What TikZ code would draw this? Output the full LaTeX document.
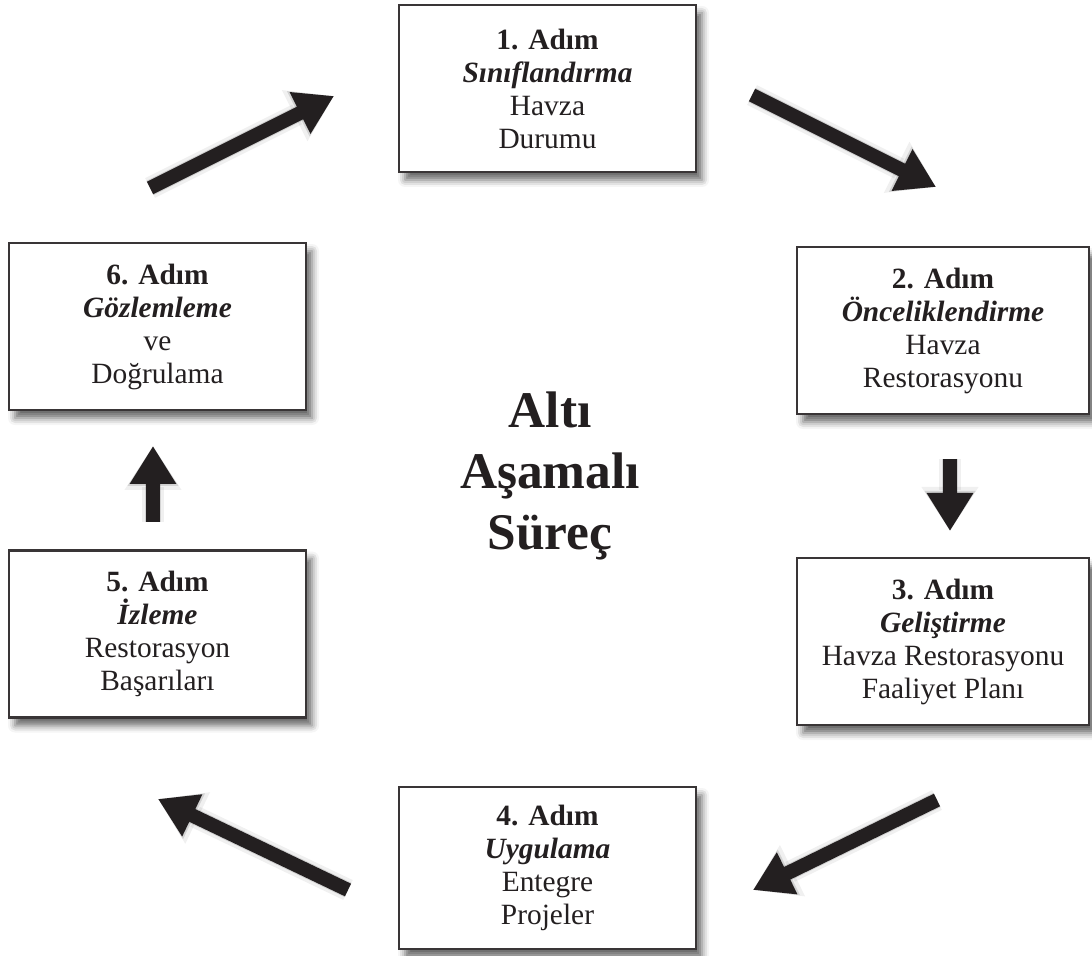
\documentclass[tikz,border=0pt]{standalone}
\usepackage{fontspec}
\setmainfont{Liberation Serif}
\usetikzlibrary{arrows.meta,shadows.blur}
\definecolor{ink}{HTML}{231F20}
\begin{document}
\begin{tikzpicture}[x=0.5pt,y=-0.5pt,
  stepbox/.style={draw=ink!90, line width=1.2pt, fill=white, minimum width=148.5pt,
    minimum height=83.5pt, align=center, inner sep=0pt, text=ink,
    font=\fontsize{14.7}{16.5}\selectfont,
    blur shadow={shadow xshift=3pt, shadow yshift=-4pt, shadow blur radius=3.5pt, shadow opacity=60}},
  bigarrow/.style={line width=7pt, ink, -{Triangle[length=19pt,width=22pt]}},
  arrowshade/.style={line width=8pt, black, opacity=0.12, -{Triangle[length=20pt,width=24pt]}, shift={(3pt,-4pt)}},
  arrowshade2/.style={line width=11pt, black, opacity=0.06, -{Triangle[length=22pt,width=27pt]}, shift={(3pt,-4pt)}},
  titlefont/.style={font=\fontsize{25.7}{30.5}\selectfont\bfseries, align=center, text=ink}]
\useasboundingbox (0,0) rectangle (1092,956);

\node[stepbox, minimum width=148.5pt] (b1) at (547.5,88.5)
  {\textbf{1. Adım}\\\textbf{\textit{Sınıflandırma}}\\Havza\\Durumu};
\node[stepbox, minimum width=146pt] (b2) at (943,330.5)
  {\textbf{2. Adım}\\\textbf{\textit{Önceliklendirme}}\\Havza\\Restorasyonu};
\node[stepbox, minimum width=146pt] (b3) at (943,641.5)
  {\textbf{3. Adım}\\\textbf{\textit{Geliştirme}}\\Havza Restorasyonu\\Faaliyet Planı};
\node[stepbox, minimum height=81pt] (b4) at (547.5,868)
  {\textbf{4. Adım}\\\textbf{\textit{Uygulama}}\\Entegre\\Projeler};
\node[stepbox] (b5) at (157.5,634)
  {\textbf{5. Adım}\\\textbf{\textit{İzleme}}\\Restorasyon\\Başarıları};
\node[stepbox] (b6) at (157.5,326.5)
  {\textbf{6. Adım}\\\textbf{\textit{Gözlemleme}}\\ve\\Doğrulama};

\node[titlefont] (title) at (550,476) {Altı\\Aşamalı\\Süreç};

\coordinate (a1s) at (150,188);  \coordinate (a1e) at (334,96);
\coordinate (a2s) at (752,95);   \coordinate (a2e) at (936,187);
\coordinate (a3s) at (950,459);  \coordinate (a3e) at (950,531);
\coordinate (a4s) at (937,800);  \coordinate (a4e) at (753,890);
\coordinate (a5s) at (348,890);  \coordinate (a5e) at (158,799);
\coordinate (a6s) at (153,522);  \coordinate (a6e) at (153,446);

\foreach \s/\e in {a1s/a1e,a2s/a2e,a3s/a3e,a4s/a4e,a5s/a5e,a6s/a6e}{
  \draw[arrowshade2] (\s) -- (\e);
  \draw[arrowshade] (\s) -- (\e);
  \draw[bigarrow] (\s) -- (\e);
}
\end{tikzpicture}
\end{document}
